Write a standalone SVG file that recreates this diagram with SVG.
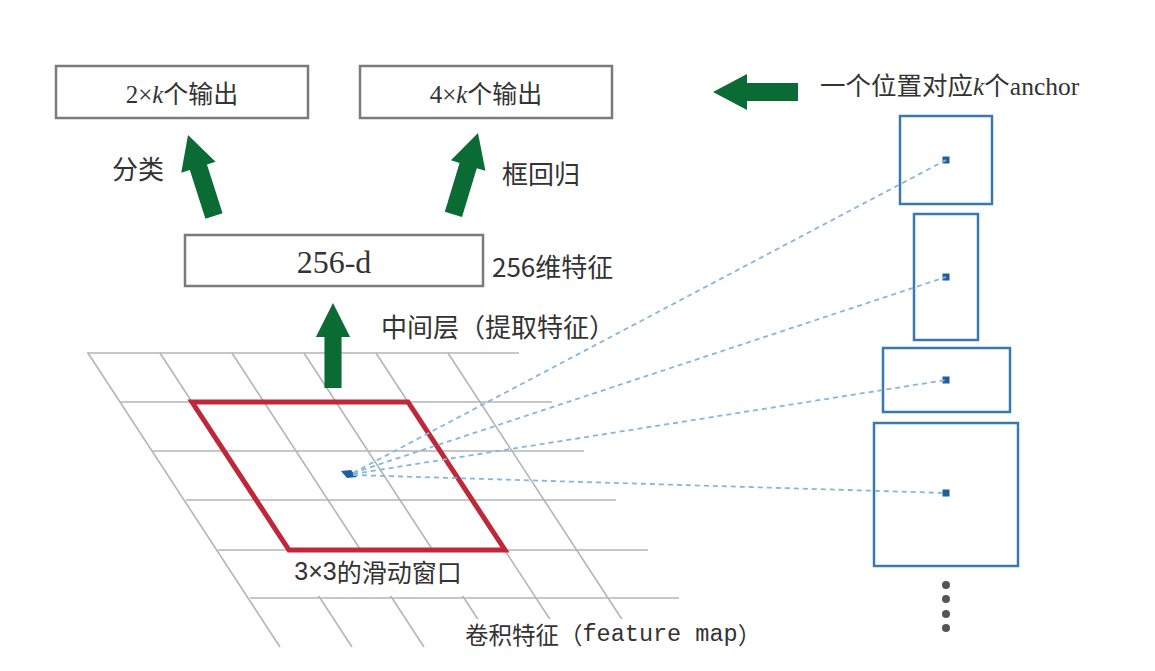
<svg xmlns="http://www.w3.org/2000/svg" xmlns:xlink="http://www.w3.org/1999/xlink" width="1155" height="671" viewBox="0 0 1155 671">
<style>
.box{fill:#fff;stroke:#7a7a7a;stroke-width:2.5}
.lbl{font-family:"Noto Sans CJK SC","Noto Sans",sans-serif;font-size:26px;fill:#333;dominant-baseline:central}
.ser{font-family:"Liberation Serif","Noto Sans CJK SC",serif;fill:#333;dominant-baseline:central}
.grid line{stroke:#b5b5b5;stroke-width:1.6}
.anc{fill:none;stroke:#3a78b0;stroke-width:2.5}
.adot{fill:#1f5fa0}
.dash{stroke:#86b6dc;stroke-width:1.8;stroke-dasharray:5 4;fill:none}
.garrow{fill:#0b6b35}
.bg{fill:#fff}
</style>
<defs>
<polygon id="arr" points="0,0 18,34 9,34 9,85 -9,85 -9,34 -18,34"/>
</defs>
<rect width="1155" height="671" fill="#fff"/>

<g id="feature-map">
<g class="grid">
<line x1="87" y1="353" x2="519" y2="353"/>
<line x1="120" y1="402" x2="552" y2="402"/>
<line x1="153" y1="451" x2="584" y2="451"/>
<line x1="186" y1="500" x2="616" y2="500"/>
<line x1="218" y1="550" x2="648" y2="550"/>
<line x1="250" y1="598" x2="679" y2="598"/>
<line x1="88" y1="353" x2="280" y2="647"/>
<line x1="160" y1="353" x2="352" y2="647"/>
<line x1="232" y1="353" x2="424" y2="647"/>
<line x1="304" y1="353" x2="496" y2="647"/>
<line x1="376" y1="353" x2="568" y2="647"/>
<line x1="448" y1="353" x2="640" y2="647"/>
</g>
<rect class="bg" x="284" y="552" width="186" height="44"/>
<rect class="bg" x="460" y="619" width="300" height="34"/>
<text class="lbl" x="465" y="634" style="font-size:23.5px">卷积特征（<tspan font-family="Liberation Mono,monospace">feature map</tspan>）</text>
</g>

<g id="sliding-window">
<polygon points="192,402 408,402 505,550 289,550" fill="none" stroke="#c0283a" stroke-width="5" stroke-linejoin="miter"/>
<polygon points="341,471 351,470 357,477 347,478" fill="#1f5fa0"/>
<text class="lbl" x="378" y="571" text-anchor="middle" style="font-size:25px"><tspan font-family="Liberation Sans,sans-serif">3×3</tspan>的滑动窗口</text>
</g>

<g id="box-cls">
<rect class="box" x="56" y="66" width="252" height="52"/>
<text class="ser" x="182" y="94" text-anchor="middle" style="font-size:25px">2×<tspan font-style="italic">k</tspan>个输出</text>
</g>
<g id="box-reg">
<rect class="box" x="360" y="66" width="252" height="52"/>
<text class="ser" x="486" y="94" text-anchor="middle" style="font-size:25px">4×<tspan font-style="italic">k</tspan>个输出</text>
</g>
<g id="box-256d">
<rect class="box" x="185" y="235" width="298" height="51"/>
<text class="ser" x="334" y="262" text-anchor="middle" style="font-size:32px">256-d</text>
</g>

<g id="labels">
<text class="lbl" x="112" y="167">分类</text>
<text class="lbl" x="502" y="172">框回归</text>
<text class="lbl" x="492" y="265">256维特征</text>
<text class="lbl" x="381" y="325">中间层（提取特征）</text>
<text class="ser" x="820" y="86" style="font-size:25.5px">一个位置对应<tspan font-style="italic">k</tspan>个anchor</text>
</g>

<g id="anchor-1"><rect class="anc" x="900" y="116" width="92" height="88"/><rect class="adot" x="942.5" y="156.5" width="7" height="7"/></g>
<g id="anchor-2"><rect class="anc" x="914" y="214" width="64" height="126"/><rect class="adot" x="942.5" y="273.5" width="7" height="7"/></g>
<g id="anchor-3"><rect class="anc" x="883" y="348" width="127" height="64"/><rect class="adot" x="942.5" y="376.5" width="7" height="7"/></g>
<g id="anchor-4"><rect class="anc" x="874" y="423" width="144" height="143"/><rect class="adot" x="942.5" y="489.5" width="7" height="7"/></g>
<g id="ellipsis" fill="#555">
<circle cx="946" cy="585" r="4"/><circle cx="946" cy="599" r="4"/><circle cx="946" cy="614" r="4"/><circle cx="946" cy="628" r="4"/>
</g>

<g id="connectors">
<line class="dash" x1="353" y1="473" x2="946" y2="160"/>
<line class="dash" x1="353" y1="473" x2="946" y2="277"/>
<line class="dash" x1="353" y1="474" x2="946" y2="380"/>
<line class="dash" x1="353" y1="475" x2="946" y2="493"/>
<use href="#arr" xlink:href="#arr" class="garrow" transform="translate(188,135) rotate(-17.8)"/>
<use href="#arr" xlink:href="#arr" class="garrow" transform="translate(478,133) rotate(16.8)"/>
<use href="#arr" xlink:href="#arr" class="garrow" transform="translate(333,303) scale(0.95,1.0)"/>
<use href="#arr" xlink:href="#arr" class="garrow" transform="translate(713,92) rotate(-90)"/>
</g>
</svg>
